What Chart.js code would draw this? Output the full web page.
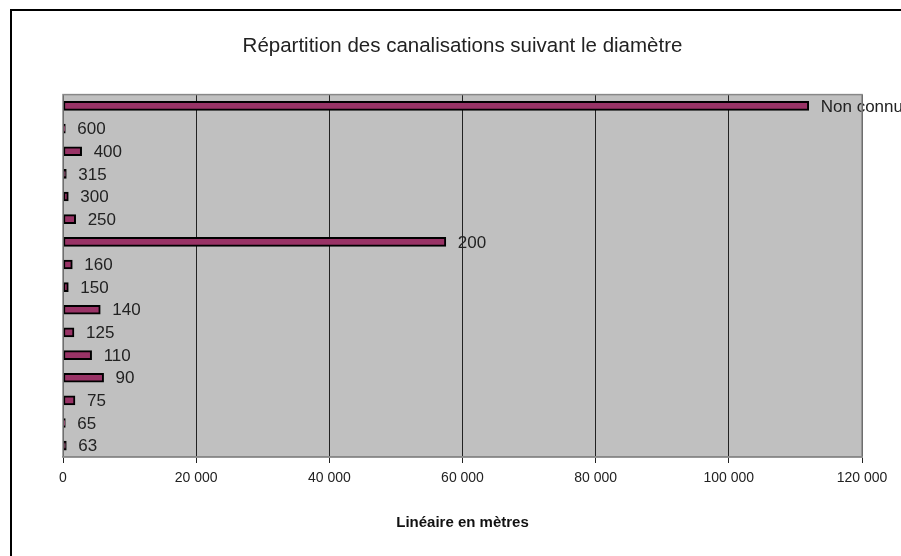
<!DOCTYPE html>
<html lang="fr">
<head>
<meta charset="utf-8">
<title>Répartition des canalisations suivant le diamètre</title>
<script src="https://cdn.jsdelivr.net/npm/chart.js@4.4.1/dist/chart.umd.min.js"></script>
<style>
  html, body { margin: 0; padding: 0; background: #fff; }
  #wrap { width: 901px; height: 556px; position: relative; }
</style>
</head>
<body>
<div id="wrap"><canvas id="chart" width="901" height="556"></canvas></div>
<script>
// diamètres, du haut vers le bas
const diameters = ['Non connu', '600', '400', '315', '300', '250', '200', '160', '150', '140', '125', '110', '90', '75', '65', '63'];
// linéaire en mètres
const lengths = [112000, 350, 2800, 500, 800, 1900, 57500, 1400, 800, 5600, 1650, 4300, 6100, 1800, 350, 500];
const xMax = 120000;
const xStep = 20000;

const fmt = n => String(n).replace(/\B(?=(\d{3})+(?!\d))/g, ' ');

// fond gris de la zone de tracé, cadre, et bordure extérieure
const frame = {
  id: 'frame',
  beforeDraw(chart) {
    const { ctx, chartArea: a } = chart;
    ctx.save();
    ctx.fillStyle = '#c0c0c0';
    ctx.fillRect(a.left, a.top, a.right - a.left, a.bottom - a.top);
    ctx.strokeStyle = '#000';
    ctx.lineWidth = 2;
    ctx.beginPath();
    ctx.moveTo(11, chart.height);
    ctx.lineTo(11, 10);
    ctx.lineTo(chart.width, 10);
    ctx.stroke();
    ctx.restore();
  },
  afterDraw(chart) {
    const { ctx, chartArea: a } = chart;
    ctx.save();
    ctx.strokeStyle = '#888';
    ctx.lineWidth = 1.5;
    ctx.strokeRect(a.left, a.top, a.right - a.left, a.bottom - a.top);
    ctx.restore();
  },
};

// étiquette du diamètre au bout de chaque barre
const barLabels = {
  id: 'barLabels',
  afterDatasetsDraw(chart) {
    const { ctx } = chart;
    const meta = chart.getDatasetMeta(0);
    ctx.save();
    ctx.font = '17px "Liberation Sans", Arial, sans-serif';
    ctx.fillStyle = '#222';
    ctx.textBaseline = 'middle';
    ctx.textAlign = 'left';
    meta.data.forEach((bar, i) => {
      ctx.fillText(diameters[i], bar.x + 12, bar.y + 1);
    });
    ctx.restore();
  },
};

new Chart(document.getElementById('chart'), {
  type: 'bar',
  data: {
    labels: diameters,
    datasets: [{
      data: lengths,
      backgroundColor: '#993366',
      borderColor: '#000',
      borderWidth: 2,
      borderSkipped: false,
      barThickness: 9,
    }],
  },
  options: {
    indexAxis: 'y',
    responsive: false,
    animation: false,
    layout: { padding: { left: 63, right: 39, top: 0, bottom: 0 } },
    plugins: {
      legend: { display: false },
      tooltip: { enabled: false },
      title: {
        display: true,
        text: 'Répartition des canalisations suivant le diamètre',
        color: '#222',
        font: { family: '"Liberation Sans", Arial, sans-serif', size: 20.5, weight: 'normal' },
        padding: { top: 34, bottom: 36 },
      },
    },
    scales: {
      y: { display: false },
      x: {
        min: 0,
        max: xMax,
        afterFit: scale => { scale.height = 99; },
        ticks: {
          stepSize: xStep,
          color: '#222',
          padding: 7,
          maxRotation: 0,
          font: { family: '"Liberation Sans", Arial, sans-serif', size: 14 },
          callback: v => fmt(v),
        },
        grid: { color: '#222', lineWidth: 1, tickLength: 6, tickColor: '#222' },
        border: { display: true, color: '#888', width: 1.5 },
        title: {
          display: true,
          text: 'Linéaire en mètres',
          color: '#111',
          font: { family: '"Liberation Sans", Arial, sans-serif', size: 15, weight: 'bold' },
          padding: { top: 0, bottom: 24 },
        },
      },
    },
  },
  plugins: [frame, barLabels],
});
</script>
</body>
</html>
